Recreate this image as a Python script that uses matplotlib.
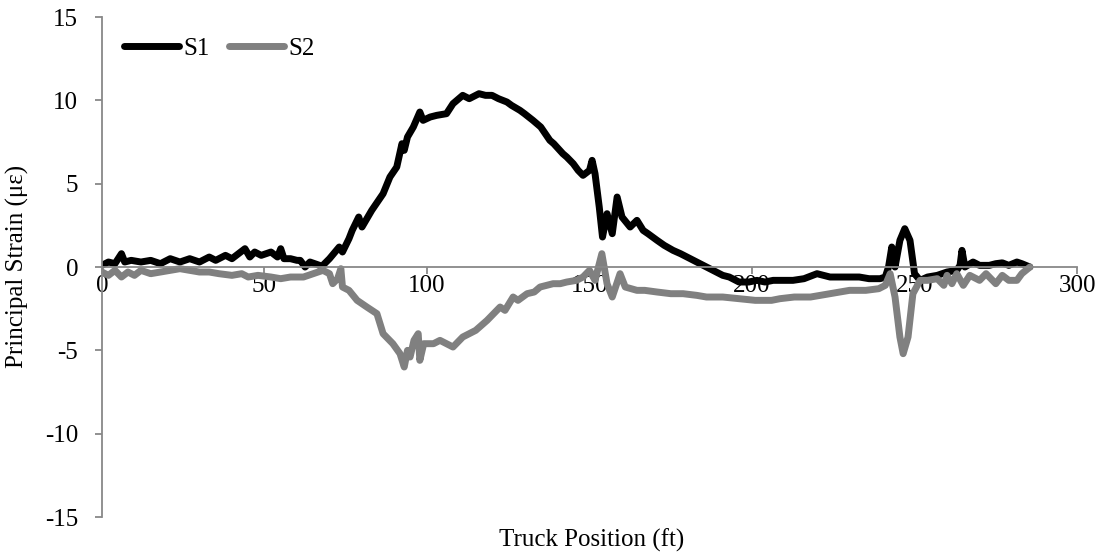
import numpy as np
import matplotlib
matplotlib.use("Agg")
import matplotlib.pyplot as plt

# Truck position (ft) and principal strain (microstrain)
s1_x = [0, 2, 4, 6, 7, 9, 12, 15, 18, 21, 24, 27, 30, 33, 35, 38, 40, 42, 44, 45.5,
        47, 49, 52, 54, 55, 56, 58, 60, 61, 62.5, 64, 65.5, 67.7, 70, 73, 74, 76, 77,
        79, 80, 83, 86.5, 88.6, 90.7, 92.3, 93, 94, 95.8, 97.8, 98.8, 101, 103, 106,
        108, 111, 113, 116, 118, 120, 122, 124.6, 126, 128.6, 130, 132.6, 135, 137.8,
        139, 141.8, 143, 145, 146.5, 148, 150, 150.8, 151.7, 153, 154, 155.4, 157,
        158.5, 160, 162.5, 164.6, 166.5, 168, 170.8, 173, 175.7, 178, 181, 183, 186,
        188, 191, 193, 196, 199, 201.5, 204, 206.5, 209, 212.6, 216, 220, 224, 228,
        233, 236, 239.4, 241, 242, 243, 244, 245.5, 247, 248.6, 250, 251.7, 254, 257,
        260, 263, 264, 264.6, 265.5, 268, 270, 273, 275, 277, 279, 281.5, 283, 285.5]
s1_y = [0.1, 0.3, 0.2, 0.8, 0.3, 0.4, 0.3, 0.4, 0.2, 0.5, 0.3, 0.5, 0.3, 0.6, 0.4, 0.7, 0.5, 0.8, 1.1, 0.6,
        0.9, 0.7, 0.9, 0.6, 1.1, 0.5, 0.5, 0.4, 0.4, 0.0, 0.3, 0.2, 0.05, 0.5, 1.2, 0.9, 1.7, 2.2,
        3.0, 2.4, 3.4, 4.4, 5.4, 6.0, 7.4, 7.0, 7.8, 8.4, 9.3, 8.8, 9.0, 9.1, 9.2,
        9.8, 10.3, 10.1, 10.4, 10.3, 10.3, 10.1, 9.9, 9.7, 9.4, 9.2, 8.8, 8.4, 7.6,
        7.4, 6.8, 6.6, 6.2, 5.8, 5.5, 5.8, 6.4, 5.6, 3.6, 1.8, 3.2, 2.0,
        4.2, 3.0, 2.4, 2.8, 2.2, 2.0, 1.6, 1.3, 1.0, 0.8, 0.5, 0.3, 0.0,
        -0.2, -0.5, -0.6, -0.9, -0.9, -0.8, -0.9, -0.8, -0.8, -0.8, -0.7, -0.4, -0.6, -0.6,
        -0.6, -0.7, -0.7, -0.6, 0.0, 1.2, 0.0, 1.6, 2.3, 1.6, -0.4, -0.8, -0.6, -0.5,
        -0.3, -0.2, 0.1, 1.0, 0.0, 0.3, 0.1, 0.1, 0.2, 0.25, 0.1, 0.3, 0.2, 0.0]

s2_x = [0, 2, 4, 6, 8, 10, 12, 15, 18, 21, 24, 27, 30, 33, 36, 40, 43, 45, 48, 52,
        55, 58, 62, 65, 68, 70, 71, 72.5, 73.5, 74, 76, 78.5, 81.5, 84.6, 86.5, 89.5,
        91.7, 93, 94, 94.8, 96, 97.3, 97.8, 99, 102, 104, 106, 108, 111, 115, 118.5,
        122.5, 124, 126.5, 128, 130.8, 133, 134.8, 138.8, 141, 143, 146, 148, 150,
        151.7, 153.8, 155.4, 157, 159.4, 161, 164.6, 167, 170.8, 175, 178.8, 183, 186,
        191, 196, 201, 206, 208.6, 213, 218, 224, 230, 235, 239, 241, 242.5, 244,
        245.5, 246.5, 248, 249.5, 251.7, 254, 257, 259, 260, 261.5, 263, 265, 267,
        270, 272, 275, 277, 279, 281.5, 283, 285.5]
s2_y = [-0.3, -0.5, -0.2, -0.6, -0.3, -0.5, -0.2, -0.4, -0.3, -0.2, -0.1, -0.2, -0.3, -0.3, -0.4, -0.5, -0.4, -0.6, -0.5, -0.6,
        -0.7, -0.6, -0.6, -0.4, -0.2, -0.4, -1.0, -0.7, -0.1, -1.2, -1.4, -2.0, -2.4, -2.8, -4.0, -4.6,
        -5.2, -6.0, -5.0, -5.4, -4.4, -4.0, -5.6, -4.6, -4.6, -4.4, -4.6, -4.8, -4.2, -3.8, -3.2,
        -2.4, -2.6, -1.8, -2.0, -1.6, -1.5, -1.2, -1.0, -1.0, -0.9, -0.8, -0.6, -0.2,
        -0.8, 0.8, -1.0, -1.8, -0.4, -1.2, -1.4, -1.4, -1.5, -1.6, -1.6, -1.7, -1.8,
        -1.8, -1.9, -2.0, -2.0, -1.9, -1.8, -1.8, -1.6, -1.4, -1.4, -1.3, -1.1, -0.4, -1.8,
        -4.2, -5.2, -4.2, -1.6, -0.8, -0.8, -0.7, -1.1, -0.5, -1.0, -0.4, -1.1, -0.5,
        -0.8, -0.4, -1.0, -0.5, -0.8, -0.8, -0.4, 0.0]

plt.rcParams["font.family"] = ["Liberation Serif", "DejaVu Serif"]
plt.rcParams["font.size"] = 18
plt.rcParams["axes.unicode_minus"] = False

fig = plt.figure(figsize=(11.13, 5.56), dpi=100)
ax = fig.add_axes([0.0916, 0.0701, 0.8761, 0.8993])

ax.plot(s1_x, s1_y, color="black", lw=5, solid_joinstyle="round", solid_capstyle="round", label="S1")
ax.plot(s2_x, s2_y, color="#808080", lw=5, solid_joinstyle="round", solid_capstyle="round", label="S2")

ax.set_xlim(0, 300)
ax.set_ylim(-15, 15)
ax.set_xticks(np.arange(0, 301, 50))
ax.set_yticks(np.arange(-15, 16, 5))

spine_col = "#888888"
ax.spines["top"].set_visible(False)
ax.spines["right"].set_visible(False)
ax.spines["bottom"].set_position(("data", 0))
for s in ("left", "bottom"):
    ax.spines[s].set_color(spine_col)
    ax.spines[s].set_linewidth(1.3)
ax.tick_params(axis="both", direction="out", length=5, width=1.3, color=spine_col, labelsize=18)
ax.tick_params(axis="y", pad=12)
ax.tick_params(axis="x", pad=1)

fig.text(0.016, 0.52, "Principal Strain (με)", rotation=90, ha="center", va="center", fontsize=18)
fig.text(0.532, 0.029, "Truck Position (ft)", ha="center", va="center", fontsize=18)

leg = ax.legend(loc="upper left", ncol=2, frameon=False, fontsize=18,
                bbox_to_anchor=(0.005, 0.995), handlelength=2.2, handletextpad=0.15,
                columnspacing=0.8, borderaxespad=0.3)

fig.savefig("out.png", dpi=100)
